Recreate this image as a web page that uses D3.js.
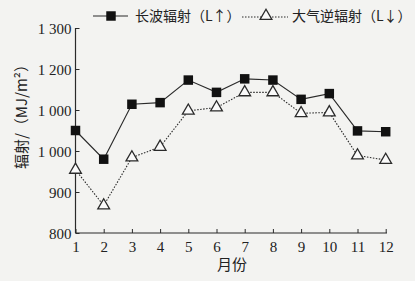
<!DOCTYPE html>
<html><head><meta charset="utf-8">
<script src="https://cdn.jsdelivr.net/npm/d3@7"></script>
<style>body{margin:0;background:#f3f3f1;}svg{display:block;}</style>
</head><body><svg id="c" width="415" height="281"></svg>
<script>
const months = [1,2,3,4,5,6,7,8,9,10,11,12];
const longWave = [1050,980,1114,1118,1173,1143,1176,1173,1126,1140,1049,1047];
const counterRad = [954,867,984,1010,1098,1106,1143,1143,1092,1094,989,978];
const yTickValues = [800,900,1000,1100,1200,1300];
const yTickLabels = ["800","900","1 000","1 000","1 200","1 300"];
const seriesNames = ["长波辐射（L↑）","大气逆辐射（L↓）"];
const xTitle = "月份";
const yTitle = "辐射/（MJ/m²）";

const svg = d3.select("#c");
const ink = "#2a2a2a";
const x = d3.scaleLinear().domain([1,12]).range([75.5,385.7]);
const y = d3.scaleLinear().domain([800,1300]).range([233,28]);
const serif = "'Liberation Serif','Times New Roman',serif";
const cjk = "'Noto Sans CJK SC',sans-serif";

// axes
const xa = svg.append("g").attr("transform","translate(0,233)")
  .call(d3.axisBottom(x).tickValues(months).tickSize(-4).tickPadding(8).tickSizeOuter(0).tickFormat(d3.format("d")));
const ya = svg.append("g").attr("transform","translate(75.5,0)")
  .call(d3.axisLeft(y).tickValues(yTickValues).tickSize(-4).tickPadding(4).tickSizeOuter(0)
    .tickFormat((d,i)=>yTickLabels[i]));
[xa,ya].forEach(a=>{
  a.select(".domain").attr("stroke",ink).attr("stroke-width",1.2);
  a.selectAll(".tick line").attr("stroke",ink);
  a.selectAll("text").attr("fill","#222").style("font-family",serif).style("font-size","15px");
});
xa.select(".domain").attr("d","M75.5,0H387");
ya.select(".domain").attr("d","M0,233V28");
ya.selectAll("text").attr("dy","0.35em");

// lines
const line = d3.line().x((d,i)=>x(months[i])).y(d=>y(d));
svg.append("path").attr("d",line(longWave)).attr("fill","none").attr("stroke",ink).attr("stroke-width",1.1);
svg.append("path").attr("d",line(counterRad)).attr("fill","none").attr("stroke",ink).attr("stroke-width",1.1).attr("stroke-dasharray","1.5,1.5");

const sq = d3.symbol().type(d3.symbolSquare).size(90);
const tri = d3.symbol().type(d3.symbolTriangle).size(60);
svg.append("g").selectAll("path").data(longWave).join("path")
  .attr("d",sq).attr("transform",(d,i)=>`translate(${x(months[i])},${y(d)})`).attr("fill","#111");
svg.append("g").selectAll("path").data(counterRad).join("path")
  .attr("d",tri).attr("transform",(d,i)=>`translate(${x(months[i])},${y(d)})`)
  .attr("fill","#fafafa").attr("stroke",ink).attr("stroke-width",1.3);

// legend
const lg = svg.append("g");
lg.append("line").attr("x1",93).attr("x2",128).attr("y1",16).attr("y2",16).attr("stroke",ink).attr("stroke-width",1.1);
lg.append("path").attr("d",sq).attr("transform","translate(111,16)").attr("fill","#111");
lg.append("text").attr("x",135).attr("y",21).text(seriesNames[0]).attr("fill","#222")
  .style("font-family",cjk).style("font-size","14px");
lg.append("line").attr("x1",242).attr("x2",288).attr("y1",17).attr("y2",17).attr("stroke",ink).attr("stroke-width",1.1).attr("stroke-dasharray","1.5,1.5");
lg.append("path").attr("d",tri).attr("transform","translate(266,16)").attr("fill","#fafafa").attr("stroke",ink).attr("stroke-width",1.3);
lg.append("text").attr("x",292).attr("y",21).text(seriesNames[1]).attr("fill","#222")
  .style("font-family",cjk).style("font-size","14px");

// titles
svg.append("text").attr("x",232).attr("y",270).attr("text-anchor","middle").text(xTitle)
  .attr("fill","#222").style("font-family",cjk).style("font-size","15px");
svg.append("text").attr("transform","translate(27,113) rotate(-90)").attr("text-anchor","middle").text(yTitle)
  .attr("fill","#222").style("font-family",cjk).style("font-size","15px");
</script></body></html>
